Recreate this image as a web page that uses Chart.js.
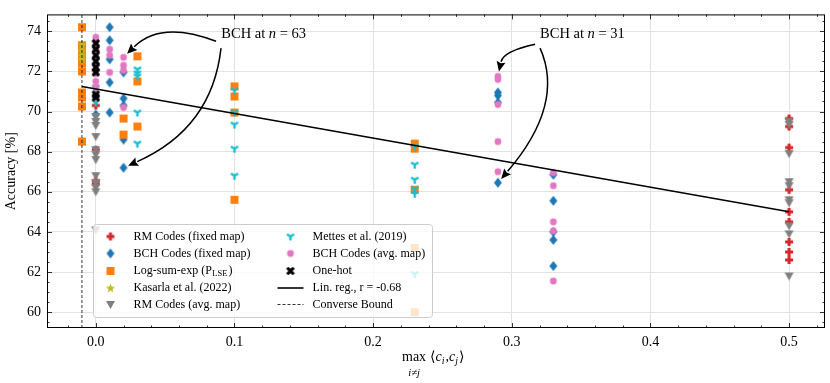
<!DOCTYPE html>
<html>
<head>
<meta charset="utf-8">
<script src="https://cdn.jsdelivr.net/npm/chart.js@4.4.1/dist/chart.umd.min.js"></script>
<style>
  html, body { margin: 0; padding: 0; background: #fff; }
</style>
</head>
<body>
<canvas id="acc" width="830" height="383"></canvas>
<script>
const serif = "'Liberation Serif', 'DejaVu Serif', serif";

// values (x = max <c_i,c_j>, y = accuracy in %)
const rmFixedX = [0, 0, 0, 0, 0.5, 0.5, 0.5, 0.5, 0.5, 0.5, 0.5, 0.5, 0.5];
const rmFixedY = [70.3, 68.1, 66.55, 66.4, 69.65, 69.25, 68.2, 66.1, 65.0, 64.5, 63.5, 63.0, 62.6];

const bchFixedX = [0, 0.01, 0.01, 0.01, 0.01, 0.01, 0.02, 0.02, 0.02, 0.02, 0.02, 0.29, 0.29, 0.29, 0.29, 0.33, 0.33, 0.33, 0.33, 0.33];
const bchFixedY = [69.85, 74.2, 73.55, 72.6, 71.45, 69.95, 71.95, 70.65, 70.3, 68.6, 67.2, 70.95, 70.8, 70.45, 66.45, 66.85, 65.55, 64.0, 63.6, 62.3];

const lseX = [-0.01, -0.01, -0.01, -0.01, -0.01, -0.01, -0.01, -0.01, -0.01, -0.01, 0.02, 0.02, 0.03, 0.03, 0.03, 0.1, 0.1, 0.1, 0.1, 0.23, 0.23, 0.23, 0.23, 0.23];
const lseY = [74.2, 73.3, 73.0, 72.75, 72.4, 72.0, 70.95, 70.7, 70.25, 68.5, 69.65, 68.85, 72.75, 71.5, 69.25, 71.25, 70.75, 69.95, 65.6, 68.4, 68.15, 66.1, 63.2, 60.0];

const kasarlaX = [-0.01, -0.01, -0.01, -0.01];
const kasarlaY = [73.35, 73.05, 72.8, 72.6];

const rmAvgX = [0, 0, 0, 0, 0, 0, 0, 0, 0, 0, 0, 0, 0.5, 0.5, 0.5, 0.5, 0.5, 0.5, 0.5, 0.5, 0.5, 0.5];
const rmAvgY = [69.75, 69.5, 69.3, 68.75, 68.1, 67.85, 67.6, 66.8, 66.45, 66.2, 66.0, 64.1, 69.5, 69.35, 67.9, 66.5, 66.3, 65.6, 65.45, 64.3, 63.9, 61.8];

const mettesX = [0, 0, 0.03, 0.03, 0.03, 0.03, 0.03, 0.1, 0.1, 0.1, 0.1, 0.1, 0.23, 0.23, 0.23, 0.23, 0.23, 0.23];
const mettesY = [71.2, 70.45, 72.1, 71.9, 71.75, 69.95, 68.4, 71.05, 69.95, 69.35, 68.15, 66.8, 68.25, 67.35, 66.6, 66.15, 65.9, 61.9];

const bchAvgX = [0, 0, 0, 0, 0, 0, 0, 0, 0.01, 0.01, 0.01, 0.02, 0.02, 0.02, 0.02, 0.29, 0.29, 0.29, 0.29, 0.29, 0.33, 0.33, 0.33, 0.33, 0.33];
const bchAvgY = [73.7, 73.5, 73.1, 72.7, 72.3, 71.9, 71.5, 71.2, 73.1, 72.8, 71.95, 72.7, 72.3, 72.05, 70.2, 71.75, 71.6, 70.35, 68.5, 67.0, 66.95, 66.3, 64.5, 64.05, 61.55];

const oneHotX = [0, 0, 0, 0, 0, 0, 0, 0];
const oneHotY = [73.4, 73.1, 72.8, 72.5, 72.2, 71.95, 70.85, 70.7];

const linRegX = [-0.01, 0.5];
const linRegY = [71.25, 65.0];
const converseBound = -0.01;

const xTicks = [0, 0.1, 0.2, 0.3, 0.4, 0.5];
const yTicks = [60, 62, 64, 66, 68, 70, 72, 74];
const xRange = [-0.0352, 0.5259];
const yRange = [59.21, 74.84];

function zip(xs, ys) {
    return xs.map((x, i) => ({ x: x, y: ys[i] }));
}

// little canvases used as point styles (matplotlib-like filled markers)
function marker(shape, color, size) {
    const c = document.createElement('canvas');
    const s = size + 4;
    c.width = s; c.height = s;
    const g = c.getContext('2d');
    const m = s / 2, r = size / 2;
    g.fillStyle = color;
    g.strokeStyle = color;
    g.beginPath();
    if (shape === 'square') {
        g.rect(m - r, m - r, size, size);
        g.fill();
    } else if (shape === 'diamond') {
        g.moveTo(m, m - r * 1.25); g.lineTo(m + r, m); g.lineTo(m, m + r * 1.25); g.lineTo(m - r, m);
        g.closePath(); g.fill();
    } else if (shape === 'circle') {
        g.arc(m, m, r * 0.85, 0, Math.PI * 2);
        g.fill();
    } else if (shape === 'tri') {
        g.moveTo(m - r, m - r * 0.8); g.lineTo(m + r, m - r * 0.8); g.lineTo(m, m + r);
        g.closePath(); g.fill();
    } else if (shape === 'plus' || shape === 'x') {
        const w = r * 0.38;
        g.translate(m, m);
        if (shape === 'x') g.rotate(Math.PI / 4);
        const k = shape === 'x' ? r * 1.15 : r;
        g.moveTo(-w, -k); g.lineTo(w, -k); g.lineTo(w, -w); g.lineTo(k, -w); g.lineTo(k, w); g.lineTo(w, w);
        g.lineTo(w, k); g.lineTo(-w, k); g.lineTo(-w, w); g.lineTo(-k, w); g.lineTo(-k, -w); g.lineTo(-w, -w);
        g.closePath(); g.fill();
    } else if (shape === 'star') {
        for (let i = 0; i < 10; i++) {
            const a = -Math.PI / 2 + i * Math.PI / 5;
            const rr = i % 2 ? r * 0.45 : r * 1.1;
            g.lineTo(m + rr * Math.cos(a), m + 0.5 + rr * Math.sin(a));
        }
        g.closePath(); g.fill();
    } else if (shape === 'tridown') {
        g.lineWidth = 2.4;
        g.moveTo(m, m); g.lineTo(m, m + r);
        g.moveTo(m, m); g.lineTo(m - r * 0.9, m - r * 0.55);
        g.moveTo(m, m); g.lineTo(m + r * 0.9, m - r * 0.55);
        g.stroke();
    }
    return c;
}

const series = [
    { label: 'RM Codes (fixed map)', data: zip(rmFixedX, rmFixedY), style: marker('plus', '#d62728', 8) },
    { label: 'BCH Codes (fixed map)', data: zip(bchFixedX, bchFixedY), style: marker('diamond', '#1f77b4', 8) },
    { label: 'Log-sum-exp (P_LSE)', data: zip(lseX, lseY), style: marker('square', '#ff7f0e', 8) },
    { label: 'Kasarla et al. (2022)', data: zip(kasarlaX, kasarlaY), style: marker('star', '#bcbd22', 9) },
    { label: 'RM Codes (avg. map)', data: zip(rmAvgX, rmAvgY), style: marker('tri', '#7f7f7f', 9) },
    { label: 'Mettes et al. (2019)', data: zip(mettesX, mettesY), style: marker('tridown', '#17becf', 8) },
    { label: 'BCH Codes (avg. map)', data: zip(bchAvgX, bchAvgY), style: marker('circle', '#e377c2', 8) },
    { label: 'One-hot', data: zip(oneHotX, oneHotY), style: marker('x', '#000000', 8) }
];

const n = series.length + 2;
const datasets = series.map((s, i) => ({
    type: 'scatter',
    label: s.label,
    data: s.data,
    pointStyle: s.style,
    pointRadius: 4,
    pointHoverRadius: 4,
    order: n - i  // later series on top, like matplotlib
}));
datasets.push({
    type: 'line',
    label: 'Lin. reg., r = -0.68',
    data: zip(linRegX, linRegY),
    borderColor: '#000',
    borderWidth: 1.6,
    pointRadius: 0,
    fill: false,
    order: 1
});
datasets.push({
    type: 'line',
    label: 'Converse Bound',
    data: zip([converseBound, converseBound], yRange),
    borderColor: '#000',
    borderWidth: 0.8,
    borderDash: [3, 2],
    pointRadius: 0,
    fill: false,
    order: 0
});

// inward ticks on all four sides + black frame
const frame = {
    id: 'frame',
    afterDatasetsDraw(chart) {
        const g = chart.ctx, a = chart.chartArea;
        const xs = chart.scales.x, ys = chart.scales.y;
        g.save();
        g.strokeStyle = '#000';
        g.lineWidth = 0.8;
        g.beginPath();
        for (let v = -0.02; v <= 0.521; v += 0.02) {
            const px = Math.round(xs.getPixelForValue(v)) + 0.5;
            const major = Math.abs(v * 10 - Math.round(v * 10)) < 1e-6;
            const len = major ? 5 : 2.5;
            g.moveTo(px, a.bottom); g.lineTo(px, a.bottom - len);
            g.moveTo(px, a.top); g.lineTo(px, a.top + len);
        }
        for (let v = 59.5; v <= 74.6; v += 0.5) {
            const py = Math.round(ys.getPixelForValue(v)) + 0.5;
            const major = Math.abs(v / 2 - Math.round(v / 2)) < 1e-6;
            const len = major ? 5 : 2.5;
            g.moveTo(a.left, py); g.lineTo(a.left + len, py);
            g.moveTo(a.right, py); g.lineTo(a.right - len, py);
        }
        g.stroke();
        g.lineWidth = 1;
        g.strokeRect(a.left + 0.5, a.top + 0.5, a.right - a.left - 1, a.bottom - a.top - 1);
        g.restore();
    }
};

function drawLegendRow(g, s, x, y) {
    g.drawImage(s.style, x - s.style.width / 2, y - s.style.height / 2);
}

const boxLegend = {
    id: 'boxLegend',
    afterDatasetsDraw(chart) {
        const g = chart.ctx, a = chart.chartArea;
        const x0 = a.left + 46.5, y0 = a.bottom - 103.5, w = 339, h = 93;
        g.save();
        g.beginPath();
        g.roundRect(x0, y0, w, h, 3);
        g.fillStyle = 'rgba(255,255,255,0.8)';
        g.fill();
        g.strokeStyle = '#cccccc';
        g.lineWidth = 1;
        g.stroke();
        g.font = '12px ' + serif;
        g.fillStyle = '#000';
        g.textBaseline = 'middle';
        const rows = [12, 29, 46.5, 63.5, 80].map(d => y0 + d);
        for (let i = 0; i < 5; i++) {
            const s = series[i];
            drawLegendRow(g, s, x0 + 17, rows[i]);
            if (s.label === 'Log-sum-exp (P_LSE)') {
                let tx = x0 + 40;
                g.fillText('Log-sum-exp (P', tx, rows[i]);
                tx += g.measureText('Log-sum-exp (P').width;
                g.font = '8.5px ' + serif;
                g.fillText('LSE', tx + 0.5, rows[i] + 3);
                tx += g.measureText('LSE').width + 1.5;
                g.font = '12px ' + serif;
                g.fillText(')', tx, rows[i]);
            } else {
                g.fillText(s.label, x0 + 40, rows[i]);
            }
        }
        for (let i = 5; i < 8; i++) {
            const s = series[i];
            drawLegendRow(g, s, x0 + 197, rows[i - 5]);
            g.fillText(s.label, x0 + 219, rows[i - 5]);
        }
        g.strokeStyle = '#000';
        g.lineWidth = 1.6;
        g.beginPath();
        g.moveTo(x0 + 184, rows[3]); g.lineTo(x0 + 210, rows[3]);
        g.stroke();
        g.fillText(datasets[8].label, x0 + 219, rows[3]);
        g.lineWidth = 0.8;
        g.setLineDash([3, 2]);
        g.beginPath();
        g.moveTo(x0 + 184, rows[4]); g.lineTo(x0 + 210, rows[4]);
        g.stroke();
        g.setLineDash([]);
        g.fillText(datasets[9].label, x0 + 219, rows[4]);
        g.restore();
    }
};

// curved arrows pointing at the BCH points (all positions in data units)
const notes = [
    { text: '63', at: [0.0905, 73.68], arrows: [
        { from: [0.0867, 73.5], ctrl: [0.047, 74.55], to: [0.02, 72.7] },
        { from: [0.0903, 73.16], ctrl: [0.0839, 69.17], to: [0.02, 67.2] }
    ] },
    { text: '31', at: [0.3204, 73.68], arrows: [
        { from: [0.3168, 73.35], ctrl: [0.2939, 73.0], to: [0.29, 71.75] },
        { from: [0.3204, 73.16], ctrl: [0.3384, 70.37], to: [0.29, 66.45] }
    ] }
];

const annotate = {
    id: 'annotate',
    afterDraw(chart) {
        const g = chart.ctx, xs = chart.scales.x, ys = chart.scales.y;
        const P = p => [xs.getPixelForValue(p[0]), ys.getPixelForValue(p[1])];
        g.save();
        g.fillStyle = '#000';
        g.strokeStyle = '#000';
        g.textBaseline = 'alphabetic';
        notes.forEach(nt => {
            let [tx, ty] = P(nt.at);
            g.font = '14.5px ' + serif;
            g.fillText('BCH at ', tx, ty);
            tx += g.measureText('BCH at ').width;
            g.font = 'italic 14.5px ' + serif;
            g.fillText('n', tx, ty);
            tx += g.measureText('n').width;
            g.font = '14.5px ' + serif;
            g.fillText(' = ' + nt.text, tx, ty);
            nt.arrows.forEach(ar => {
                const s = P(ar.from), c = P(ar.ctrl), t = P(ar.to);
                let dx = c[0] - t[0], dy = c[1] - t[1];
                let d = Math.hypot(dx, dy); dx /= d; dy /= d;
                const tip = [t[0] + dx * 5, t[1] + dy * 5];
                const base = [tip[0] + dx * 10, tip[1] + dy * 10];
                g.lineWidth = 1.5;
                g.beginPath();
                g.moveTo(s[0], s[1]);
                g.quadraticCurveTo(c[0], c[1], base[0], base[1]);
                g.stroke();
                g.beginPath();
                g.moveTo(tip[0], tip[1]);
                g.lineTo(base[0] - dy * 4.5, base[1] + dx * 4.5);
                g.lineTo(base[0] + dx * -1.5, base[1] + dy * -1.5);
                g.lineTo(base[0] + dy * 4.5, base[1] - dx * 4.5);
                g.closePath();
                g.fill();
            });
        });
        // x axis label: max over i != j of <c_i, c_j>
        const cx = (chart.chartArea.left + chart.chartArea.right) / 2;
        g.font = '14px ' + serif;
        const wMax = g.measureText('max').width;
        let x = cx - 34;
        g.fillText('max', x, 361);
        g.font = 'italic 10.5px ' + serif;
        g.textAlign = 'center';
        g.fillText('i\u2260j', x + wMax / 2, 376);
        g.textAlign = 'left';
        x += wMax + 4;
        const parts = [['\u27E8', ''], ['c', 'i'], [',', ''], ['c', 'j'], ['\u27E9', '']];
        parts.forEach(p => {
            g.font = (p[0] === 'c' ? 'italic ' : '') + '14px ' + serif;
            g.fillText(p[0], x, 361);
            x += g.measureText(p[0]).width;
            if (p[1]) {
                g.font = 'italic 10px ' + serif;
                g.fillText(p[1], x, 364);
                x += g.measureText(p[1]).width + 1;
            }
        });
        g.restore();
    }
};

new Chart(document.getElementById('acc').getContext('2d'), {
    type: 'scatter',
    data: { datasets: datasets },
    options: {
        responsive: false,
        animation: false,
        layout: { padding: { top: 3, right: 2, left: 0, bottom: 0 } },
        plugins: {
            legend: { display: false },
            tooltip: { enabled: false }
        },
        scales: {
            x: {
                type: 'linear',
                min: xRange[0],
                max: xRange[1],
                afterBuildTicks: s => { s.ticks = xTicks.map(v => ({ value: v })); },
                afterFit: s => { s.height = 55; },
                grid: { color: '#e2e2e2', lineWidth: 1, drawTicks: false },
                border: { display: false },
                ticks: {
                    padding: 6,
                    color: '#000',
                    font: { family: serif, size: 14 },
                    callback: v => v.toFixed(1)
                }
            },
            y: {
                type: 'linear',
                min: yRange[0],
                max: yRange[1],
                afterBuildTicks: s => { s.ticks = yTicks.map(v => ({ value: v })); },
                afterFit: s => { s.width = 47; },
                grid: { color: '#e2e2e2', lineWidth: 1, drawTicks: false },
                border: { display: false },
                title: {
                    display: true,
                    text: 'Accuracy [%]',
                    color: '#000',
                    font: { family: serif, size: 14 },
                    padding: { top: 3, bottom: 0 }
                },
                ticks: {
                    padding: 6,
                    color: '#000',
                    font: { family: serif, size: 14 },
                    callback: v => String(v)
                }
            }
        }
    },
    plugins: [boxLegend, frame, annotate]
});
</script>
</body>
</html>
